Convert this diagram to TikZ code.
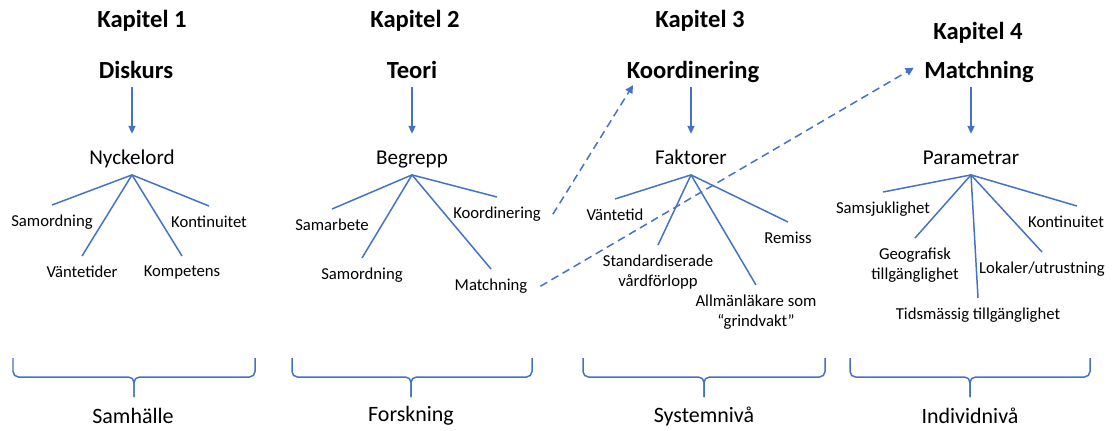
\documentclass[tikz,border=0pt]{standalone}
\usepackage{fontspec}
\setmainfont{Carlito}
\usetikzlibrary{arrows.meta}
\definecolor{linjebla}{HTML}{4472C4}
\begin{document}
\begin{tikzpicture}[x=0.02cm,y=-0.02cm,
    kapitel/.style={font=\bfseries\fontsize{14}{16}\selectfont},
    rubrik/.style={font=\bfseries\fontsize{14}{16}\selectfont,anchor=base,text height=9.5pt,text depth=2.5pt,inner sep=2.5pt},
    mitt/.style={font=\fontsize{12}{14}\selectfont,anchor=base,text height=14pt,text depth=3pt,inner ysep=3pt},
    etikett/.style={font=\fontsize{9.5}{11.2}\selectfont,anchor=north,align=center,inner xsep=1pt,inner ysep=5.5pt},
    botten/.style={font=\fontsize{12.5}{15}\selectfont},
    linje/.style={draw=linjebla,line width=0.85pt},
    pil/.style={linje,-{Triangle[length=4.5pt,width=4pt]}},
    streckpil/.style={linje,-{Triangle[length=4.5pt,width=4.5pt]},dash pattern=on 4.5pt off 2.8pt},
    klammer/.style={linje,rounded corners=0.11cm}]
    \useasboundingbox (0,0) rectangle (1114,430);

    % kapitel 1
    \node[kapitel] (k1) at (142,21) {Kapitel 1};
    \node[rubrik] (h1) at (136,78) {Diskurs};
    \node[mitt] (m1) at (132,164) {Nyckelord};
    \node[etikett] (sam1) at (52,205) {Samordning};
    \node[etikett] (van1) at (82,256) {Väntetider};
    \node[etikett] (kom1) at (182,256) {Kompetens};
    \node[etikett] (kon1) at (209,206) {Kontinuitet};
    \draw[pil] (m1.north |- h1.south) -- (m1.north);
    \draw[linje] (m1.south) -- (sam1.north);
    \draw[linje] (m1.south) -- (van1.north);
    \draw[linje] (m1.south) -- (kom1.north);
    \draw[linje] (m1.south) -- (kon1.north);
    \draw[klammer] (13,358) |- (134,377) -- (134,397);
    \draw[klammer] (255,358) |- (134,377) -- (134,397);
    \node[botten] (b1) at (133,416) {Samhälle};

    % kapitel 2
    \node[kapitel] (k2) at (415,21) {Kapitel 2};
    \node[rubrik] (h2) at (412,78) {Teori};
    \node[mitt] (m2) at (412,164) {Begrepp};
    \node[etikett] (sab2) at (332,209) {Samarbete};
    \node[etikett] (sam2) at (362,258) {Samordning};
    \node[etikett] (koo2) at (497,197) {Koordinering};
    \node[etikett] (mat2) at (491,269) {Matchning};
    \draw[pil] (m2.north |- h2.south) -- (m2.north);
    \draw[linje] (m2.south) -- (sab2.north);
    \draw[linje] (m2.south) -- (sam2.north);
    \draw[linje] (m2.south) -- (koo2.north);
    \draw[linje] (m2.south) -- (mat2.north);
    \draw[klammer] (292,358) |- (411,377) -- (411,397);
    \draw[klammer] (532,358) |- (411,377) -- (411,397);
    \node[botten] (b2) at (411,416) {Forskning};

    % kapitel 3
    \node[kapitel] (k3) at (700,21) {Kapitel 3};
    \node[rubrik] (h3) at (693,78) {Koordinering};
    \node[mitt] (m3) at (691,164) {Faktorer};
    \node[etikett] (van3) at (615,199) {Väntetid};
    \node[etikett] (std3) at (658,245) {Standardiserade\\vårdförlopp};
    \node[etikett] (all3) at (756,285) {Allmänläkare som\\“grindvakt”};
    \node[etikett] (rem3) at (788,222) {Remiss};
    \draw[pil] (m3.north |- h3.south) -- (m3.north);
    \draw[linje] (m3.south) -- (van3.north);
    \draw[linje] (m3.south) -- (std3.north);
    \draw[linje] (m3.south) -- (all3.north);
    \draw[linje] (m3.south) -- (rem3.north);
    \draw[klammer] (583,358) |- (704,377) -- (704,397);
    \draw[klammer] (825,358) |- (704,377) -- (704,397);
    \node[botten] (b3) at (704,416) {Systemnivå};

    % kapitel 4
    \node[kapitel] (k4) at (978,33) {Kapitel 4};
    \node[rubrik] (h4) at (979,78) {Matchning};
    \node[mitt] (m4) at (971,164) {Parametrar};
    \node[etikett] (sjk4) at (883,192) {Samsjuklighet};
    \node[etikett] (geo4) at (915,238) {Geografisk\\tillgänglighet};
    \node[etikett] (tid4) at (978,298) {Tidsmässig tillgänglighet};
    \node[etikett] (lok4) at (1042,252) {Lokaler/utrustning};
    \node[etikett] (kon4) at (1066,206) {Kontinuitet};
    \draw[pil] (m4.north |- h4.south) -- (m4.north);
    \draw[linje] (m4.south) -- (sjk4.north);
    \draw[linje] (m4.south) -- (geo4.north);
    \draw[linje] (m4.south) -- (tid4.north);
    \draw[linje] (m4.south) -- (lok4.north);
    \draw[linje] (m4.south) -- ([xshift=0.22cm]kon4.north);
    \draw[klammer] (850,358) |- (970,377) -- (970,397);
    \draw[klammer] (1090,358) |- (970,377) -- (970,397);
    \node[botten] (b4) at (970,416) {Individnivå};

    % streckade pilar
    \draw[streckpil] ([xshift=0.2cm]koo2.east) -- ([xshift=0.22cm,yshift=0.04cm]h3.south west);
    \draw[streckpil] ([xshift=0.22cm]mat2.east) -- ([xshift=-0.12cm,yshift=0.08cm]h4.west);
\end{tikzpicture}
\end{document}
